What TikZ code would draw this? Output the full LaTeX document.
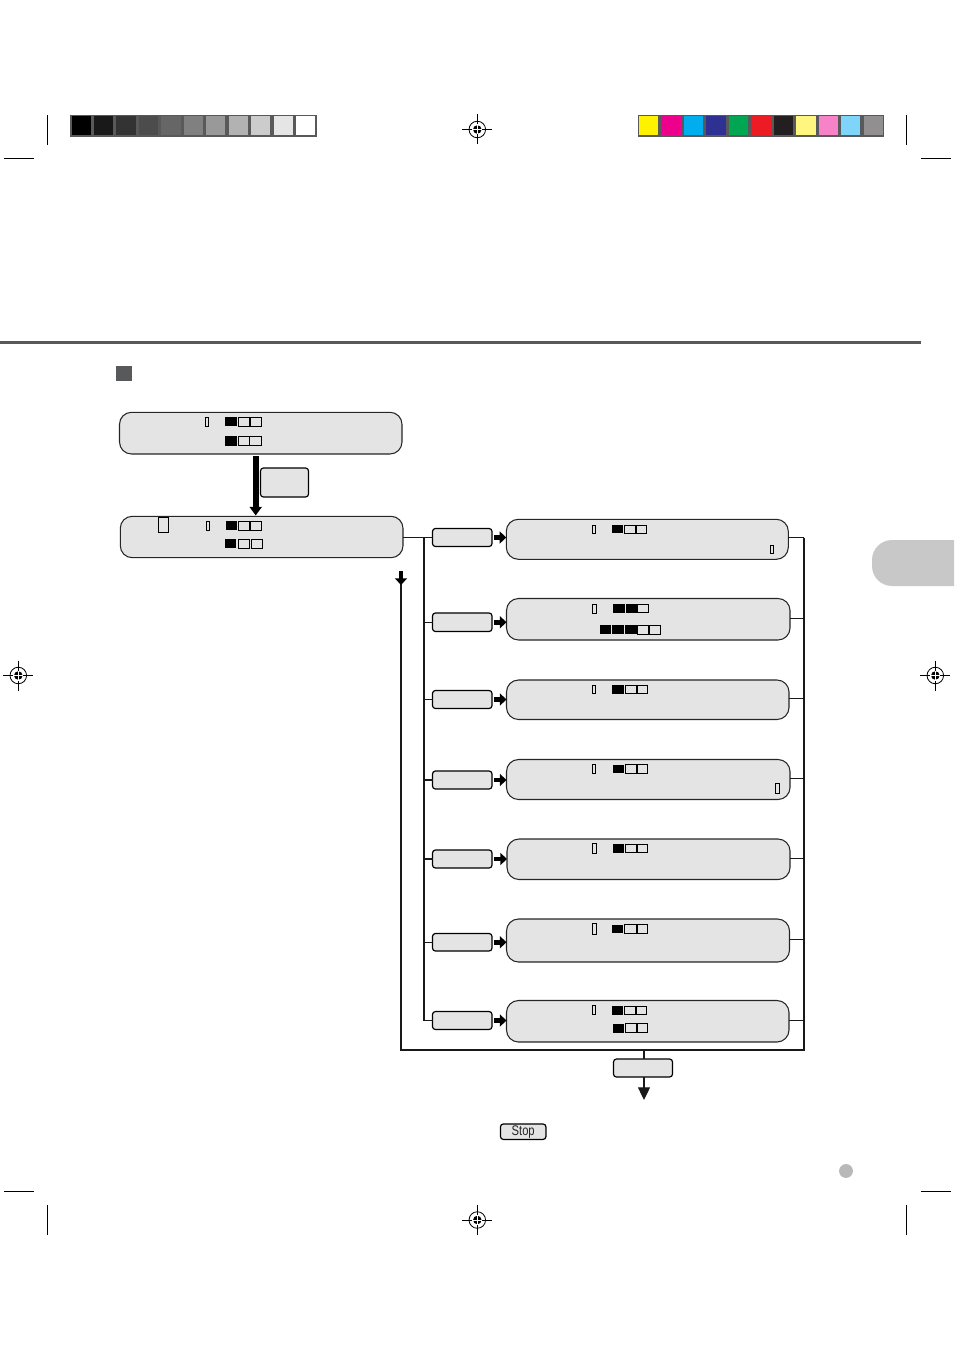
\documentclass[tikz,border=0pt]{standalone}
\usepackage{fontspec}
\setmainfont{Liberation Sans}
\usetikzlibrary{arrows.meta,calc}
\definecolor{rulegray}{HTML}{58595B}
\definecolor{panelgray}{HTML}{E4E4E4}
\definecolor{tabgray}{HTML}{C8C8C8}
\tikzset{
  x=0.75pt,y=-0.75pt,
  lcd/.style={draw=black!85,fill=panelgray,line width=0.8pt,rounded corners=9pt,inner sep=0,outer sep=0},
  keybox/.style={draw=black,fill=panelgray,line width=0.9pt,rounded corners=2.2pt,inner sep=0,outer sep=0},
  link/.style={draw=black!90,line width=0.85pt},
  fat/.style={line width=3.6pt,shorten <=1.5pt,-{Triangle[length=5pt,width=9pt]}},
  cell/.style={draw=black,line width=0.6pt},
  crop/.style={draw=black,line width=0.6pt}
}
\newcommand{\panel}[6][lcd]{\node[#1,minimum width={(#5-#3)*0.75pt},minimum height={(#6-#4)*0.75pt}] (#2) at ({(#3+#5)/2},{(#4+#6)/2}) {};}
\newcommand{\bk}[4]{\fill[black] (#1,#2) rectangle (#3,#4);}
\newcommand{\wh}[4]{\draw[cell] (#1,#2) rectangle (#3,#4);}
\newcommand{\regmark}[2]{%
  \draw[crop] (#1-15,#2) -- (#1+15,#2) (#1,#2-15) -- (#1,#2+15);
  \draw[crop] (#1,#2) circle[radius=6.2pt];
  \fill[black] (#1,#2) circle[radius=3.2pt];
  \draw[white,line width=0.5pt] (#1-5,#2) -- (#1+5,#2) (#1,#2-5) -- (#1,#2+5);}
\newcommand{\swatch}[3]{\fill[#3] (#1,116) rectangle (#2,135);}
\begin{document}
\begin{tikzpicture}
\useasboundingbox (0,0) rectangle (954,1351);
\fill[white] (0,0) rectangle (954,1351);
% colour bars
\fill[rulegray] (70,115) rectangle (317,136.7);
\swatch{71.7}{91}{black}
\swatch{94}{113}{black!90}
\swatch{116}{136}{black!80}
\swatch{139}{158}{black!70}
\swatch{161}{181}{black!60}
\swatch{184}{203}{black!50}
\swatch{206}{225}{black!40}
\swatch{229}{248}{black!30}
\swatch{251}{270}{black!20}
\swatch{274}{293}{black!10}
\swatch{296}{315}{white}
\fill[rulegray] (638,115) rectangle (884,136.7);
\definecolor{cA}{HTML}{FFF200}\definecolor{cB}{HTML}{EC008C}\definecolor{cC}{HTML}{00AEEF}
\definecolor{cD}{HTML}{2E3192}\definecolor{cE}{HTML}{00A651}\definecolor{cF}{HTML}{ED1C24}
\definecolor{cG}{HTML}{231F20}\definecolor{cH}{HTML}{FFF67F}\definecolor{cI}{HTML}{F782C8}
\definecolor{cJ}{HTML}{7FD4F9}\definecolor{cK}{HTML}{918F90}
\swatch{639}{658}{cA}
\swatch{662}{681}{cB}
\swatch{684}{703}{cC}
\swatch{706}{726}{cD}
\swatch{729}{748}{cE}
\swatch{751}{771}{cF}
\swatch{774}{793}{cG}
\swatch{796}{816}{cH}
\swatch{819}{838}{cI}
\swatch{841}{860}{cJ}
\swatch{864}{883}{cK}
% crop marks
\draw[crop] (47,115) -- (47,145) (4,158) -- (34,158) (906.5,115) -- (906.5,145) (921,158) -- (951,158);
\draw[crop] (47,1205) -- (47,1235) (4,1191) -- (34,1191) (906.5,1205) -- (906.5,1235) (921,1191) -- (951,1191);
\regmark{477.3}{129.5}
\regmark{477.3}{1220}
\regmark{18.3}{675.5}
\regmark{935.3}{675.5}
% page furniture
\draw[rulegray,line width=2.2pt] (0,342.5) -- (921,342.5);
\fill[rulegray] (116,366) rectangle (132,381);
\fill[tabgray] (954,540) {[rounded corners=15pt] -- (872,540) -- (872,586)} -- (954,586) -- cycle;
\fill[black!28] (846,1171) circle[radius=5.2pt];
% panels
\panel{A}{119.5}{412.3}{402}{454}
\panel{B}{120.3}{516.3}{403}{557.7}
\panel[keybox]{K}{260.5}{468}{308.5}{497}
\panel{R1}{506.3}{519.3}{788.3}{559.3}
\panel{R2}{506.5}{598.5}{790}{640}
\panel{R3}{506.5}{680}{789}{719.5}
\panel{R4}{506.5}{759.5}{790}{799.5}
\panel{R5}{507}{839}{790}{879.5}
\panel{R6}{506.5}{919}{789.5}{962}
\panel{R7}{506.5}{1000.5}{789}{1042}
\panel[keybox]{L1}{432.5}{528.5}{492}{546.5}
\panel[keybox]{L2}{432.5}{613}{492}{631.5}
\panel[keybox]{L3}{432.5}{690.5}{492}{708.5}
\panel[keybox]{L4}{432.5}{771}{492}{789}
\panel[keybox]{L5}{432.5}{850}{492}{868}
\panel[keybox]{L6}{432.5}{933.5}{492}{951}
\panel[keybox]{L7}{432.5}{1011.5}{492}{1029.5}
\panel[keybox]{X}{613.5}{1059}{672.5}{1077}
\node[keybox,minimum width={45.5*0.75pt},minimum height={15.5*0.75pt},font=\fontsize{10.5pt}{10.5pt}\selectfont,text=black!85] (S) at (523.2,1131.7) {\addfontfeature{FakeStretch=0.8}Stop};
% junction coordinates
\coordinate (vl) at (424,538);
\coordinate (vr) at (804,537.5);
\coordinate (bl) at (401,1050);
\coordinate (br) at (804,1050);
\coordinate (up) at (401,571);
\coordinate (xt) at (644,1050);
\coordinate (xe) at (644,1100);
\coordinate (kt) at (255.7,456);
\coordinate (kb) at (255.7,515.5);
% connectors
\draw[line width=4.5pt,-{Triangle[length=6.5pt,width=9pt]}] (kt) -- (kb);
\draw[link] (L1.west -| B.east) -- (L1.west);
\draw[link] (L1.west -| vl) -- (L7.west -| vl) -- (L7.west);
\foreach \n in {2,...,6}{\draw[link] (L\n.west -| vl) -- (L\n.west);}
\foreach \n in {1,...,7}{\draw[fat] (L\n.east) -- (L\n.east -| R\n.west);}
\draw[link] (vr -| R1.east) -- (vr);
\foreach \n in {2,...,7}{\draw[link] ($(R\n.east)+(0,-1)$) -- ($(R\n.east -| vr)+(0,-1)$);}
\draw[link] (vr) -- (br) -- (bl) -- ($(up)+(0,10)$);
\draw[line width=3.6pt,-{Triangle[length=5pt,width=9pt]}] (up) -- ($(up)+(0,14)$);
\draw[link] (xt) -- (xt |- X.north);
\draw[link,-{Triangle[length=9.5pt,width=9pt]}] (xt |- X.south) -- (xe);
% level indicators
\wh{205.3}{417.3}{208.3}{426}\bk{225}{417}{237}{426}\wh{238.3}{417.3}{249}{426}\wh{250.3}{417.3}{261}{426}
\bk{225}{436}{237}{446}\wh{238.3}{436.3}{249}{445.7}\wh{249.3}{436.3}{261}{445.7}
\wh{158.3}{517}{168.7}{532.5}
\wh{206.3}{521.3}{209.3}{530}\bk{226}{521}{237}{530}\wh{238.3}{521.3}{249}{530}\wh{250.3}{521.3}{261}{530}
\bk{225}{539}{236}{548}\wh{238}{539.3}{249}{548}\wh{251}{539.3}{262}{548}
%
\wh{592.5}{525.5}{595.5}{533.5}\bk{612}{525}{623}{532.5}\wh{624.3}{525.5}{635}{533.5}\wh{636.3}{525.5}{646.5}{533.5}
\wh{770.7}{545.5}{773.7}{553.5}
%
\wh{592.5}{604.5}{596}{613.5}\bk{613}{604}{625}{612.5}\bk{625.5}{604}{636.5}{612.5}\wh{637.5}{604.5}{648}{612.5}
\bk{600}{625}{611}{634}\bk{612}{625}{624}{634}\bk{625}{625}{636.5}{634}\wh{637.5}{625.5}{648.5}{634}\wh{649.5}{625.5}{660.5}{634}
%
\wh{592.5}{685.5}{595.5}{693.5}\bk{612}{685}{624}{693.5}\wh{625.5}{685.5}{636}{693.5}\wh{637.5}{685.5}{647.5}{693.5}
%
\wh{592.5}{764.5}{595.5}{773}\bk{613}{764.5}{624}{773}\wh{625.5}{764.5}{636}{773}\wh{637.5}{764.5}{647.5}{773}
\wh{775.5}{783.5}{779.5}{793}
%
\wh{592.5}{843.5}{596.5}{853}\bk{613}{844}{624}{852.5}\wh{625.5}{844}{636}{852.5}\wh{637.5}{844}{647.5}{852.5}
%
\wh{592.5}{923.5}{596.5}{934}\bk{612}{924.5}{623}{933}\wh{624.5}{924.5}{636}{933}\wh{637}{924.5}{647.5}{933}
%
\wh{592.5}{1005.5}{595.5}{1014.5}\bk{612}{1006}{623}{1014.5}\wh{624.3}{1006}{635.5}{1014.5}\wh{636.3}{1006}{646.5}{1014.5}
\bk{613}{1023.5}{624}{1032.5}\wh{625.5}{1023.5}{636}{1032.5}\wh{637.3}{1023.5}{647.5}{1032.5}
\end{tikzpicture}
\end{document}
